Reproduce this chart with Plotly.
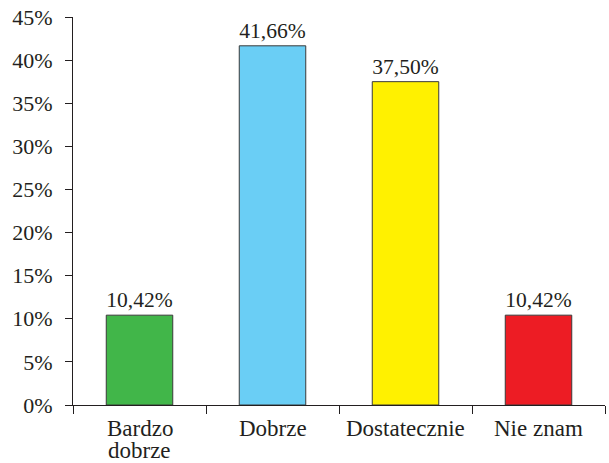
import plotly.graph_objects as go

categories = ["Bardzo dobrze", "Dobrze", "Dostatecznie", "Nie znam"]
label_lines = [["Bardzo", "dobrze"], ["Dobrze"], ["Dostatecznie"], ["Nie znam"]]
values = [10.42, 41.66, 37.50, 10.42]
labels = ["10,42%", "41,66%", "37,50%", "10,42%"]
colors = ["#41b649", "#6acef5", "#fff100", "#ed1c24"]

fig = go.Figure()
fig.add_trace(go.Bar(
    x=categories,
    y=values,
    text=labels,
    textposition="outside",
    cliponaxis=False,
    textfont=dict(size=22, color="#231f20"),
    marker=dict(color=colors, line=dict(color="#3a3a3a", width=1)),
    width=0.5,
    showlegend=False
))

# category labels as annotations (tighter line spacing than tick labels)
for cat, lines in zip(categories, label_lines):
    for i, line in enumerate(lines):
        fig.add_annotation(
            x=cat, y=0, xref="x", yref="y",
            text=line, showarrow=False,
            yanchor="middle", yshift=-23 - 22 * i,
            font=dict(size=23, color="#231f20"),
        )

fig.update_layout(
    width=609,
    height=463,
    margin=dict(l=73, r=4, t=17, b=58),
    plot_bgcolor="white",
    paper_bgcolor="white",
    font=dict(family="Liberation Serif", size=22, color="#231f20"),
    xaxis=dict(
        showline=True, linecolor="#231f20", linewidth=1,
        tickson="boundaries", ticks="outside", ticklen=8,
        tickcolor="#231f20", showgrid=False,
        showticklabels=False, automargin=False,
    ),
    yaxis=dict(
        range=[0, 45], dtick=5, ticksuffix="%",
        showline=True, linecolor="#231f20", linewidth=1,
        ticks="outside", ticklen=7, tickcolor="#231f20",
        showgrid=False, zeroline=False, automargin=False,
        ticklabelstandoff=8,
        tickfont=dict(size=22),
    ),
)

# drop the browser's default 8px body margin so the figure fills the window
fig.write_html("out.html", config={"displayModeBar": False},
               post_script="document.body.style.margin='0';")
